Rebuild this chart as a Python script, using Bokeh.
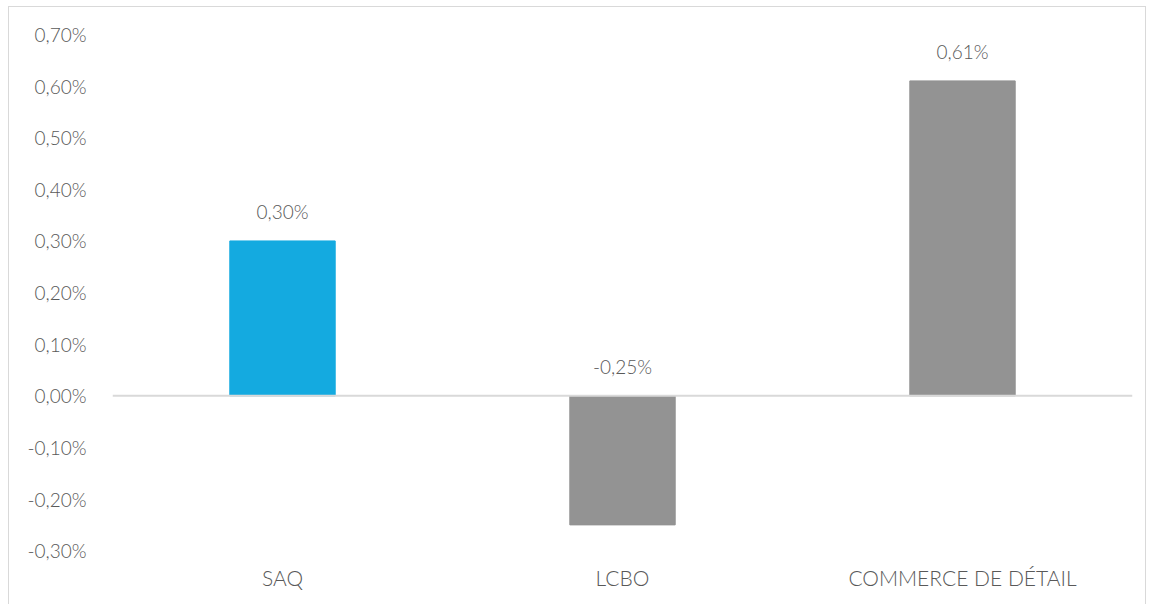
from bokeh.plotting import figure
from bokeh.models import ColumnDataSource, FixedTicker, Span, LabelSet, FactorRange, Range1d
from bokeh.core.properties import value
from bokeh.embed import file_html
from bokeh.resources import INLINE

categories = ["SAQ", "LCBO", "COMMERCE DE DÉTAIL"]
values = [0.30, -0.25, 0.61]
bar_colors = ["#14AAE0", "#939393", "#939393"]
y_ticks = [-0.3, -0.2, -0.1, 0.0, 0.1, 0.2, 0.3, 0.4, 0.5, 0.6, 0.7]
y_tick_labels = ["-0,30%", "-0,20%", "-0,10%", "0,00%", "0,10%", "0,20%",
                 "0,30%", "0,40%", "0,50%", "0,60%", "0,70%"]

FONT = "Lato Light"
TXT = "#595959"

labels = [("%.2f" % v).replace(".", ",") + "%" for v in values]
label_y = [max(v, 0) for v in values]

src = ColumnDataSource(dict(cat=categories, val=values, color=bar_colors,
                            label=labels, ly=label_y))

p = figure(width=1138, height=600, x_range=FactorRange(*categories, range_padding=0),
           y_range=Range1d(-0.319, 0.727), output_backend="svg", toolbar_location=None,
           min_border_left=103, min_border_right=15, min_border_top=13, min_border_bottom=47)
p.styles = {"border": "1px solid #d9d9d9", "margin-left": "8px", "margin-top": "6px"}

p.vbar(x="cat", top="val", bottom=0, width=0.31, color="color", source=src)

zero = Span(location=0, dimension="width", line_color="#d9d9d9", line_width=2)
p.add_layout(zero)

ls = LabelSet(x="cat", y="ly", text="label", source=src, text_align="center",
              text_baseline="middle", y_offset=29, text_font=value(FONT),
              text_font_size="19px", text_color=TXT)
p.add_layout(ls)

p.outline_line_color = None
p.xgrid.visible = False
p.ygrid.visible = False

p.yaxis.ticker = FixedTicker(ticks=y_ticks)
p.yaxis.major_label_overrides = {t: l for t, l in zip(y_ticks, y_tick_labels)}
p.yaxis.axis_line_color = None
p.yaxis.major_tick_line_color = None
p.yaxis.minor_tick_line_color = None
p.yaxis.major_label_standoff = 20
p.yaxis.major_label_text_font = FONT
p.yaxis.major_label_text_font_size = "19px"
p.yaxis.major_label_text_color = TXT

p.xaxis.axis_line_color = None
p.xaxis.major_tick_line_color = None
p.xaxis.minor_tick_line_color = None
p.xaxis.major_label_standoff = -2
p.xaxis.major_label_text_font = FONT
p.xaxis.major_label_text_font_size = "21px"
p.xaxis.major_label_text_color = TXT

open("out.html", "w").write(file_html(p, INLINE))
